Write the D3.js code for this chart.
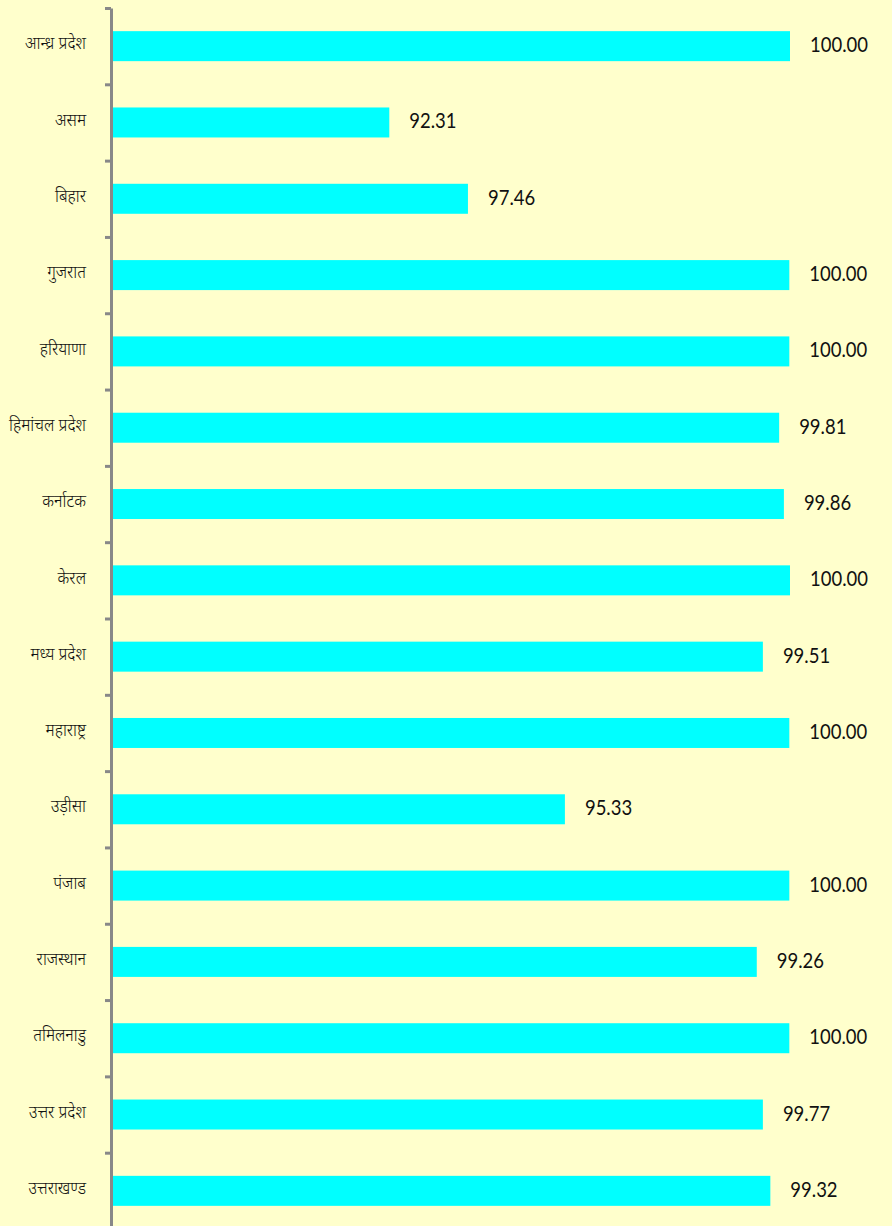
<!DOCTYPE html>
<html>
<head>
<meta charset="utf-8">
<script src="https://cdn.jsdelivr.net/npm/d3@7"></script>
<style>
  html, body { margin: 0; padding: 0; background: #FFFFCC; }
  svg { display: block; }
</style>
</head>
<body>
<div id="grafica"></div>
<script>
// categories (states) top to bottom
var states = ["आन्ध्र प्रदेश", "असम", "बिहार", "गुजरात", "हरियाणा", "हिमांचल प्रदेश",
  "कर्नाटक", "केरल", "मध्य प्रदेश", "महाराष्ट्र", "उड़ीसा", "पंजाब",
  "राजस्थान", "तमिलनाडु", "उत्तर प्रदेश", "उत्तराखण्ड"];

// bar lengths as drawn (0-100 scale)
var barValues = [100, 40.9, 52.5, 99.9, 99.9, 98.4, 99.1, 100, 96.0, 99.9, 66.8, 99.9, 95.1, 99.9, 96.0, 97.1];

// data labels printed beside the bars
var labelValues = [100.00, 92.31, 97.46, 100.00, 100.00, 99.81, 99.86, 100.00, 99.51, 100.00, 95.33, 100.00, 99.26, 100.00, 99.77, 99.32];

(function () {
var W = 892, H = 1226;
var margin = {left: 112, right: 790, top: 8, bottom: 1229};

var svg = d3.select("#grafica").append("svg")
    .attr("width", W)
    .attr("height", H);

svg.append("rect").attr("width", W).attr("height", H).attr("fill", "#FFFFCC");

var x = d3.scaleLinear().domain([0, 100]).range([margin.left, margin.right]);

var y = d3.scaleBand()
    .domain(states)
    .range([margin.top, margin.bottom])
    .paddingInner(0.607)
    .paddingOuter(0.3035);

// index scale for the tick marks between categories
var yIdx = d3.scaleLinear().domain([0, states.length]).range([margin.top, margin.bottom]);

// bars
svg.append("g").selectAll("rect")
  .data(states)
  .enter().append("rect")
    .attr("x", x(0))
    .attr("y", function(d) { return y(d); })
    .attr("width", function(d, i) { return x(barValues[i]) - x(0); })
    .attr("height", y.bandwidth())
    .attr("fill", "#00FFFF");

// axis
var axis = svg.append("g")
    .attr("transform", "translate(" + (margin.left - 1) + ",0)")
    .call(d3.axisLeft(yIdx)
      .tickValues(d3.range(0, states.length + 1))
      .tickSize(6)
      .tickSizeOuter(0)
      .tickFormat(""));
axis.select(".domain").attr("stroke", "#888888").attr("stroke-width", 3);
axis.selectAll(".tick line").attr("stroke", "#888888").attr("stroke-width", 3);

// state names
svg.append("g").selectAll("text")
  .data(states)
  .enter().append("text")
    .attr("transform", function(d) {
      return "translate(86," + (y(d) + y.bandwidth() / 2 - 1) + ") scale(0.95,1.05)";
    })
    .attr("text-anchor", "end")
    .attr("dominant-baseline", "central")
    .style("font-family", "Mangal, 'Noto Sans Devanagari', 'Noto Serif Devanagari', 'Lohit Devanagari', sans-serif")
    .style("font-size", "17px")
    .style("font-weight", 300)
    .style("fill", "#111")
    .text(function(d) { return d; });

// value labels
svg.append("g").selectAll("text")
  .data(states)
  .enter().append("text")
    .attr("transform", function(d, i) {
      return "translate(" + (x(barValues[i]) + 20) + "," + (y(d) + y.bandwidth() / 2 + 6) + ") scale(0.86,1)";
    })
    .style("font-family", "Lato, 'Open Sans', sans-serif")
    .style("font-size", "21.5px")
    .style("fill", "#111")
    .text(function(d, i) { return labelValues[i].toFixed(2); });
})();
</script>
</body>
</html>
